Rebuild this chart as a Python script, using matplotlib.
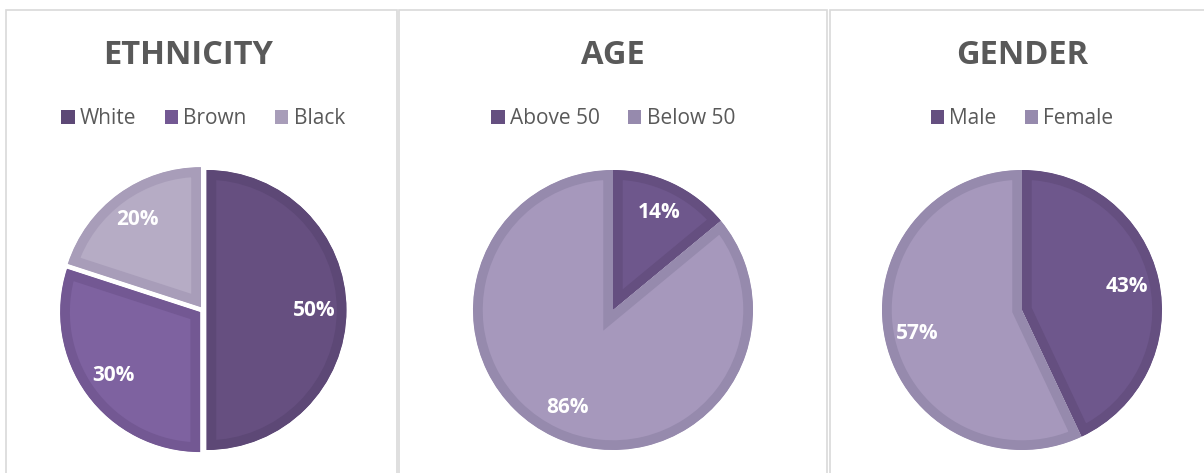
import matplotlib.pyplot as plt
from matplotlib.patches import Patch, Rectangle

W, H = 1204, 473

titles = ['ETHNICITY', 'AGE', 'GENDER']
ethnicity_labels = ['White', 'Brown', 'Black']
ethnicity_values = [50, 30, 20]
age_labels = ['Above 50', 'Below 50']
age_values = [14, 86]
gender_labels = ['Male', 'Female']
gender_values = [43, 57]

fills = [['#664F80', '#7E62A0', '#B6ACC5'],
         ['#6E578C', '#A698BC'],
         ['#6E578C', '#A698BC']]
edges = [['#5D4876', '#735893', '#A89DB9'],
         ['#654F80', '#968AAD'],
         ['#654F80', '#968AAD']]
explodes = [[0.025, 0.025, 0.025], None, None]

panels = [(6, 397), (399, 827), (830, 1210)]
centers = [203, 613, 1022]
title_x = [188, 613, 1022]
cy = 310
r = 140
text_col = '#595959'

plt.rcParams['font.family'] = ['Open Sans', 'DejaVu Sans']
fig = plt.figure(figsize=(W / 100, H / 100), dpi=100)
fig.patch.set_facecolor('white')

for x0, x1 in panels:
    fig.patches.append(Rectangle((x0 / W, -0.1), (x1 - x0) / W, 1 - 10 / H + 0.1,
                                 transform=fig.transFigure, fill=False,
                                 edgecolor='#D9D9D9', lw=1.2))

data = [(ethnicity_labels, ethnicity_values),
        (age_labels, age_values),
        (gender_labels, gender_values)]

for i, (labels, values) in enumerate(data):
    cx = centers[i]
    half = 1.2 * r
    ax = fig.add_axes([(cx - half) / W, (H - cy - half) / H, 2 * half / W, 2 * half / H])
    wedges, _, autotexts = ax.pie(values, colors=fills[i], startangle=90, counterclock=False,
                                  explode=explodes[i], autopct='%.0f%%', pctdistance=0.77,
                                  radius=1.0,
                                  wedgeprops=dict(edgecolor='none'),
                                  textprops=dict(color='white', fontsize=15, fontweight='bold'))
    ax.set_xlim(-1.2, 1.2)
    ax.set_ylim(-1.2, 1.2)
    ax.set_aspect('equal')
    ax.axis('off')
    # darker inner border: stroke clipped to the wedge itself
    for w, ec in zip(wedges, edges[i]):
        w.set_edgecolor(ec)
        w.set_linewidth(14)
        w.set_clip_on(True)
        w.set_clip_path(w)

    fig.text(title_x[i] / W, 1 - 55 / H, titles[i], ha='center', va='center', fontsize=23.5,
             fontweight='bold', color=text_col)
    handles = [Patch(facecolor=c, edgecolor='none') for c in edges[i]]
    leg = fig.legend(handles, labels, loc='center', bbox_to_anchor=(cx / W, 1 - 119 / H),
                     ncol=len(labels), frameon=False, fontsize=15, handlelength=0.65,
                     handleheight=0.65, handletextpad=0.25, columnspacing=1.35,
                     borderaxespad=0)
    for t in leg.get_texts():
        t.set_color(text_col)

fig.savefig('out.png', dpi=100)
